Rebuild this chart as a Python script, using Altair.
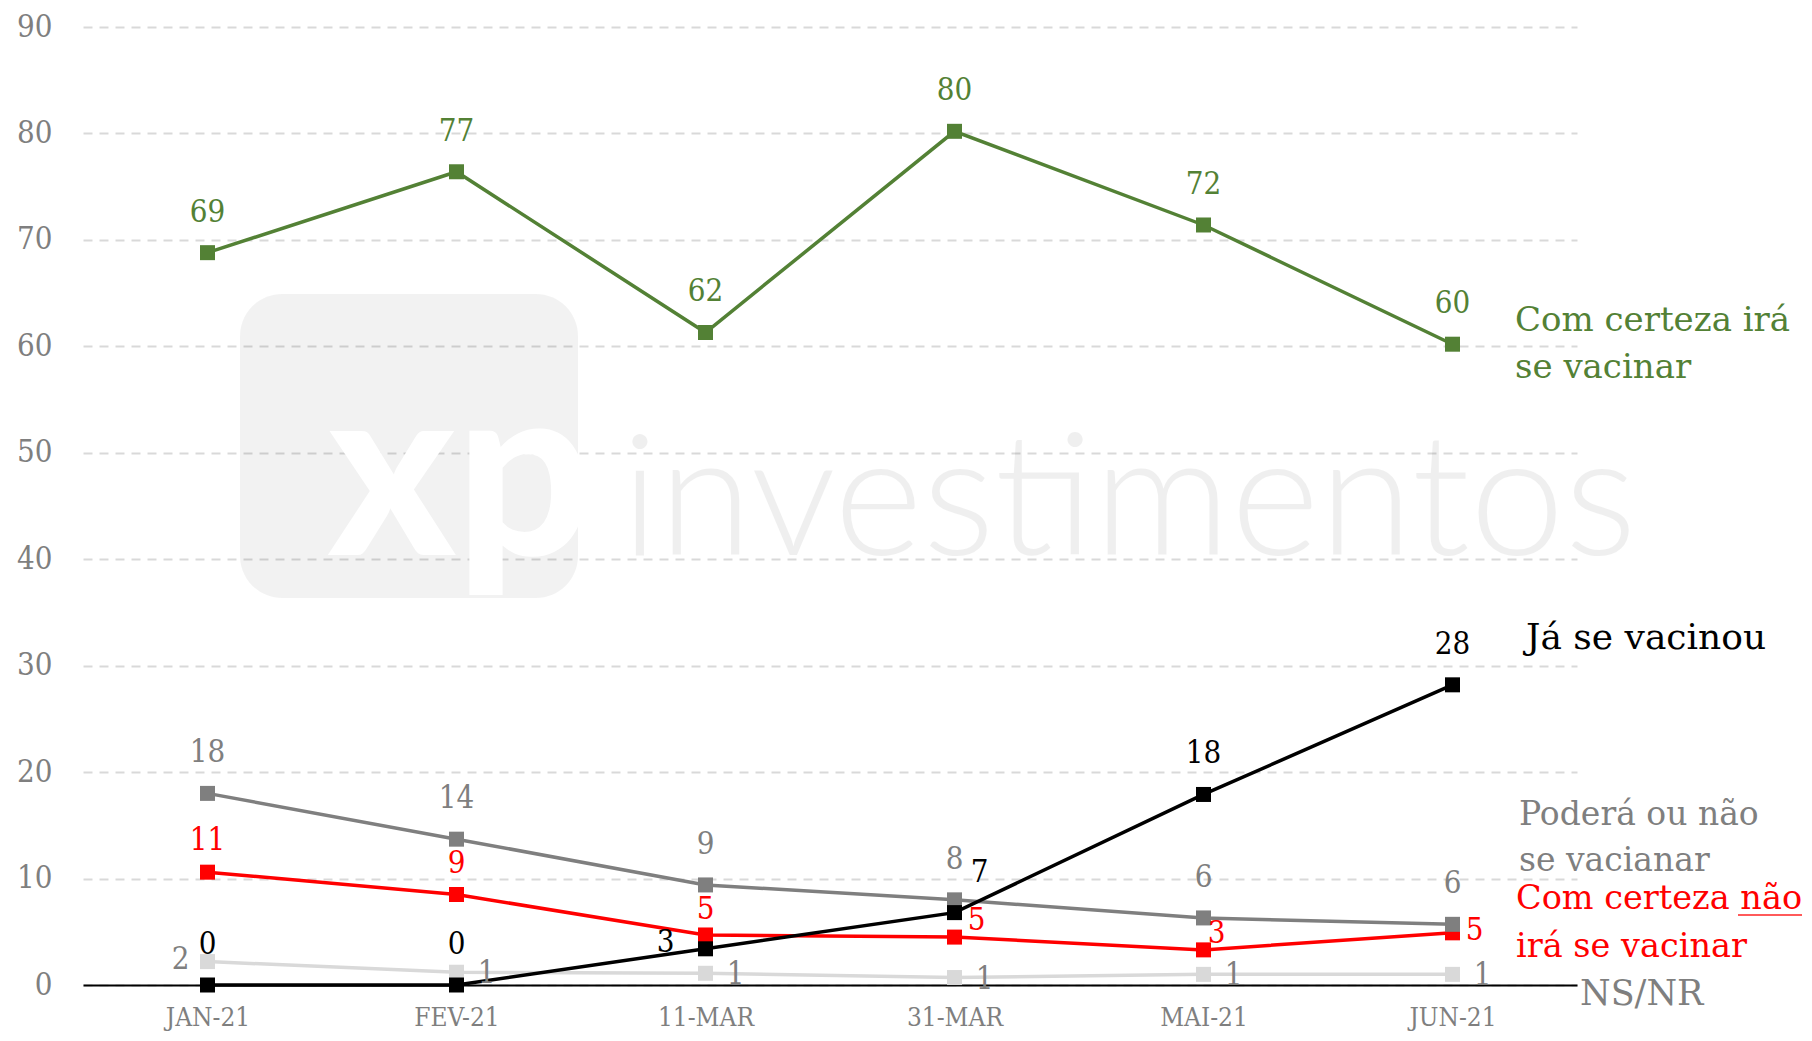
import altair as alt
import pandas as pd

# ---- data ----
categories = ["JAN-21", "FEV-21", "11-MAR", "31-MAR", "MAI-21", "JUN-21"]

ira_vacinar = [68.8, 76.4, 61.3, 80.2, 71.4, 60.2]
ira_vacinar_lbl = ["69", "77", "62", "80", "72", "60"]

ja_vacinou = [0.0, 0.0, 3.4, 6.8, 17.9, 28.2]
ja_vacinou_lbl = ["0", "0", "3", "7", "18", "28"]

podera = [18.0, 13.7, 9.4, 8.0, 6.3, 5.7]
podera_lbl = ["18", "14", "9", "8", "6", "6"]

nao_ira = [10.6, 8.5, 4.7, 4.5, 3.3, 4.9]
nao_ira_lbl = ["11", "9", "5", "5", "3", "5"]

nsnr = [2.2, 1.2, 1.1, 0.7, 1.0, 1.0]
nsnr_lbl = ["2", "1", "1", "1", "1", "1"]

y_ticks = [0, 10, 20, 30, 40, 50, 60, 70, 80, 90]

series = {
    "ira": (ira_vacinar, ira_vacinar_lbl),
    "ja": (ja_vacinou, ja_vacinou_lbl),
    "podera": (podera, podera_lbl),
    "nao": (nao_ira, nao_ira_lbl),
    "nsnr": (nsnr, nsnr_lbl),
}

rows = []
for key, (vals, lbls) in series.items():
    for i, (c, v, l) in enumerate(zip(categories, vals, lbls)):
        rows.append({"cat": c, "idx": i, "series": key, "value": v, "label": l})
df = pd.DataFrame(rows)

# ---- styles ----
GREEN = "#538135"
RED = "#ff0000"
GRAY = "#7f7f7f"
LTGRAY = "#d9d9d9"
BLACK = "#000000"
line_color = {"ira": GREEN, "ja": BLACK, "podera": GRAY, "nao": RED, "nsnr": LTGRAY}
label_color = {"ira": GREEN, "ja": BLACK, "podera": GRAY, "nao": RED, "nsnr": GRAY}
draw_order = ["nsnr", "nao", "podera", "ira", "ja"]

NUM_FONT = "DejaVu Serif Condensed"
TXT_FONT = "DejaVu Serif"

label_offsets = {
    "ira": [(0, -40)] * 6,
    "podera": [(0, -40)] * 6,
    "nao": [(0, -31), (0, -31), (0, -25), (22, -16), (13, -16), (22, -2)],
    "ja": [(0, -40), (0, -40), (-40, -6), (25, -40), (0, -40), (0, -40)],
    "nsnr": [(-27, -2), (30, 2), (30, 2), (30, 2), (30, 2), (30, 2)],
}

TOP = 19
W, H = 1494, 958

x_enc = alt.X(
    "cat:N",
    sort=categories,
    scale=alt.Scale(type="point", padding=0.5),
    axis=alt.Axis(
        title=None, labelAngle=0, ticks=False, grid=False,
        domain=True, domainColor=BLACK, domainWidth=2,
        labelFont=NUM_FONT, labelFontSize=26, labelColor=GRAY, labelPadding=19,
    ),
)
y_enc = alt.Y(
    "value:Q",
    scale=alt.Scale(domain=[0, 90], nice=False, zero=True),
    axis=alt.Axis(
        title=None, values=y_ticks, ticks=False, domain=False,
        grid=True, gridColor=LTGRAY, gridDash=[9, 7], gridWidth=2,
        labelFont=NUM_FONT, labelFontSize=31, labelColor=GRAY, labelPadding=31,
    ),
)

base = alt.Chart(df)
one = pd.DataFrame({"k": [0]})

layers = []
off = 24 - (8 + TOP)  # keep decorations at the same page position

# watermark (faint decoration)
layers.append(
    alt.Chart(one).mark_rect(color="#000000", opacity=0.05, cornerRadius=42).encode(
        x=alt.value(157), x2=alt.value(495), y=alt.value(270 + off), y2=alt.value(574 + off)
    )
)
layers.append(
    alt.Chart(one).mark_text(
        text="xp", font="Lato", fontSize=240, fontWeight=900, color="#ffffff",
        align="left", baseline="alphabetic",
    ).encode(x=alt.value(245), y=alt.value(531 + off))
)
layers.append(
    alt.Chart(one).mark_text(
        text="investimentos", font="Lato", fontSize=170, fontWeight=300, color="#000000",
        opacity=0.06, align="left", baseline="alphabetic",
    ).encode(x=alt.value(538), y=alt.value(531 + off))
)

for key in draw_order:
    sub = base.transform_filter(alt.datum.series == key)
    layers.append(sub.mark_line(color=line_color[key], strokeWidth=3.5).encode(x=x_enc, y=y_enc))
    layers.append(
        sub.mark_square(color=line_color[key], size=225, opacity=1).encode(x=x_enc, y=y_enc)
    )

for key in draw_order:
    for i, (dx, dy) in enumerate(label_offsets[key]):
        layers.append(
            base.transform_filter((alt.datum.series == key) & (alt.datum.idx == i))
            .mark_text(
                font=NUM_FONT, fontSize=31, color=label_color[key],
                dx=dx, dy=dy, align="center", baseline="middle",
            )
            .encode(x=x_enc, y=y_enc, text="label:N")
        )


def annot(text, x, y, color, size=34, font=TXT_FONT):
    return alt.Chart(one).mark_text(
        text=text, font=font, fontSize=size, color=color,
        align="left", baseline="alphabetic",
    ).encode(x=alt.value(x), y=alt.value(y + off))


layers += [
    annot("Com certeza irá", 1432, 307, GREEN),
    annot("se vacinar", 1432, 354, GREEN),
    annot("Já se vacinou", 1443, 625, BLACK, 36),
    annot("Poderá ou não", 1436, 801, GRAY, 33),
    annot("se vacianar", 1436, 847, GRAY, 33),
    annot("Com certeza não", 1433, 885, RED, 33.5),
    annot("irá se vacinar", 1433, 933, RED, 33.5),
    annot("NS/NR", 1497, 981, GRAY, 35),
]
layers.append(
    alt.Chart(one).mark_rule(color="#ff5a5a", strokeWidth=2).encode(
        x=alt.value(1655), x2=alt.value(1719), y=alt.value(891 + off)
    )
)

chart = (
    alt.layer(*layers)
    .properties(
        width=W,
        height=H,
        autosize=alt.AutoSizeParams(type="none"),
        padding={"left": 75, "top": TOP, "right": 227, "bottom": 1025 - TOP - H},
        background="white",
    )
    .configure_view(stroke=None)
)

chart.save("out.html", embed_options={"renderer": "svg", "actions": False})
